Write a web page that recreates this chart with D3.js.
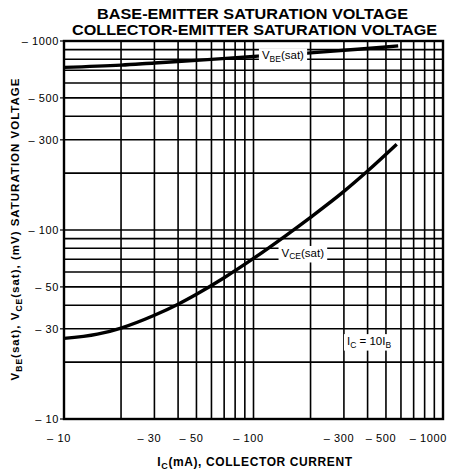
<html>

<head>
    <script src="https://d3js.org/d3.v7.min.js"></script>
    <style>
        body {
            margin: 0;
            background: #fff;
        }
        text {
            font-family: "Liberation Sans", Arial, sans-serif;
            fill: #000;
        }
    </style>
</head>

<body>
    <svg id="svg" width="456" height="473"></svg>

    <script>
        // **** Data ****
        const icVbe = [10, 20, 30, 50, 100, 200, 300, 500, 580]
        const vbeSat = [725, 745, 765, 790, 828, 865, 893, 930, 942]

        const icVce = [10, 15, 20, 30, 40, 50, 70, 100, 150, 200, 300, 400, 570]
        const vceSat = [26.7, 28.1, 30.3, 35.4, 40.5, 45.7, 55.9, 70.7, 94.3, 116.7, 160, 205, 284]

        const yTickValues = [1000, 500, 300, 100, 50, 30, 10]
        const yTickLabels = ['\u2013 1000', '\u2013 500', '\u2013 300', '\u2013 100', '\u2013 50', '\u2013 30', '\u2013 10']
        const xTickValues = [10, 30, 50, 100, 300, 500, 1000]
        const xTickLabels = ['\u2013 10', '\u2013 30', '\u2013 50', '\u2013 100', '\u2013 300', '\u2013 500', '\u2013 1000']

        // **** Layout ****
        const plotLeft = 64, plotRight = 443, plotTop = 41, plotBottom = 419

        const x = d3.scaleLog().domain([10, 1000]).range([plotLeft, plotRight])
        const y = d3.scaleLog().domain([10, 1000]).range([plotBottom, plotTop])

        const svg = d3.select('#svg')

        // grid
        svg.append('g')
            .selectAll('line')
            .data(x.ticks())
            .enter()
            .append('line')
            .attr('x1', d => x(d)).attr('x2', d => x(d))
            .attr('y1', plotTop).attr('y2', plotBottom)
            .attr('stroke', '#000').attr('stroke-width', 1.6)

        svg.append('g')
            .selectAll('line')
            .data(y.ticks())
            .enter()
            .append('line')
            .attr('y1', d => y(d)).attr('y2', d => y(d))
            .attr('x1', plotLeft).attr('x2', plotRight)
            .attr('stroke', '#000').attr('stroke-width', 1.6)

        // frame
        svg.append('rect')
            .attr('x', plotLeft).attr('y', plotTop)
            .attr('width', plotRight - plotLeft).attr('height', plotBottom - plotTop)
            .attr('fill', 'none').attr('stroke', '#000').attr('stroke-width', 2.4)

        // y ticks + labels
        const yAxis = svg.append('g')
        yAxis.selectAll('line')
            .data(yTickValues)
            .enter()
            .append('line')
            .attr('x1', plotLeft - 4).attr('x2', plotLeft)
            .attr('y1', d => y(d)).attr('y2', d => y(d))
            .attr('stroke', '#000').attr('stroke-width', 1.2)
        yAxis.selectAll('text')
            .data(yTickValues)
            .enter()
            .append('text')
            .attr('x', plotLeft - 5)
            .attr('y', d => y(d))
            .attr('dy', '0.36em')
            .attr('text-anchor', 'end')
            .style('font-size', '11px')
            .style('letter-spacing', '0.6px')
            .text((d, i) => yTickLabels[i])

        // x labels
        svg.append('g')
            .selectAll('text')
            .data(xTickValues)
            .enter()
            .append('text')
            .attr('x', d => x(d))
            .attr('y', 442)
            .attr('dx', (d, i) => i === xTickValues.length - 1 ? 4 : -5)
            .attr('text-anchor', (d, i) => i === xTickValues.length - 1 ? 'end' : 'middle')
            .style('font-size', '11px')
            .style('letter-spacing', '0.6px')
            .text((d, i) => xTickLabels[i])

        // curves
        const line = d3.line()
            .x(d => x(d[0]))
            .y(d => y(d[1]))
            .curve(d3.curveMonotoneX)

        svg.append('path')
            .datum(icVbe.map((d, i) => [d, vbeSat[i]]))
            .attr('d', line)
            .attr('fill', 'none').attr('stroke', '#000').attr('stroke-width', 3.4)

        svg.append('path')
            .datum(icVce.map((d, i) => [d, vceSat[i]]))
            .attr('d', line)
            .attr('fill', 'none').attr('stroke', '#000').attr('stroke-width', 3.4)

        // labels with white boxes
        function label(px, py, parts, size) {
            const g = svg.append('g')
            const t = g.append('text')
                .attr('x', px).attr('y', py)
                .attr('dy', '0.36em')
                .attr('text-anchor', 'middle')
                .style('font-size', size + 'px')
            parts.forEach(p => {
                t.append('tspan')
                    .attr('dy', p.sub ? 2.5 : (p.back ? -2.5 : 0))
                    .style('font-size', p.sub ? (size - 3) + 'px' : null)
                    .text(p.t)
            })
            const b = t.node().getBBox()
            g.insert('rect', 'text')
                .attr('x', b.x - 3).attr('y', b.y - 1)
                .attr('width', b.width + 6).attr('height', b.height + 2)
                .attr('fill', '#fff')
        }

        label(x(143), y(800), [{t: 'V'}, {t: 'BE', sub: true}, {t: '(sat)', back: true}], 11.5)
        label(x(182), y(72), [{t: 'V'}, {t: 'CE', sub: true}, {t: '(sat)', back: true}], 11.5)
        label(x(407), y(24.6), [{t: 'I'}, {t: 'C', sub: true}, {t: ' = 10I', back: true}, {t: 'B', sub: true}], 11.5)

        // titles
        svg.append('text')
            .attr('x', 252.5).attr('y', 19)
            .attr('text-anchor', 'middle')
            .attr('textLength', 311).attr('lengthAdjust', 'spacingAndGlyphs')
            .style('font-size', '14.5px').style('font-weight', 'bold')
            .text('BASE-EMITTER SATURATION VOLTAGE')
        svg.append('text')
            .attr('x', 254.5).attr('y', 35)
            .attr('text-anchor', 'middle')
            .attr('textLength', 365).attr('lengthAdjust', 'spacingAndGlyphs')
            .style('font-size', '14.5px').style('font-weight', 'bold')
            .text('COLLECTOR-EMITTER SATURATION VOLTAGE')

        // x axis title
        const xt = svg.append('text')
            .attr('x', 255).attr('y', 466)
            .attr('text-anchor', 'middle')
            .style('font-size', '12px').style('font-weight', 'bold')
            .style('letter-spacing', '0.6px')
        xt.append('tspan').text('I')
        xt.append('tspan').attr('dy', 2.5).style('font-size', '9px').text('C')
        xt.append('tspan').attr('dy', -2.5).text('(mA), COLLECTOR CURRENT')

        // y axis title
        const yt = svg.append('text')
            .attr('transform', 'translate(19,229) rotate(-90)')
            .attr('text-anchor', 'middle')
            .style('font-size', '11.5px').style('font-weight', 'bold')
            .style('letter-spacing', '1px')
        yt.append('tspan').text('V')
        yt.append('tspan').attr('dy', 2.5).style('font-size', '8.5px').text('BE')
        yt.append('tspan').attr('dy', -2.5).text('(sat), V')
        yt.append('tspan').attr('dy', 2.5).style('font-size', '8.5px').text('CE')
        yt.append('tspan').attr('dy', -2.5).text('(sat), (mV) SATURATION VOLTAGE')
    </script>

</body>

</html>
